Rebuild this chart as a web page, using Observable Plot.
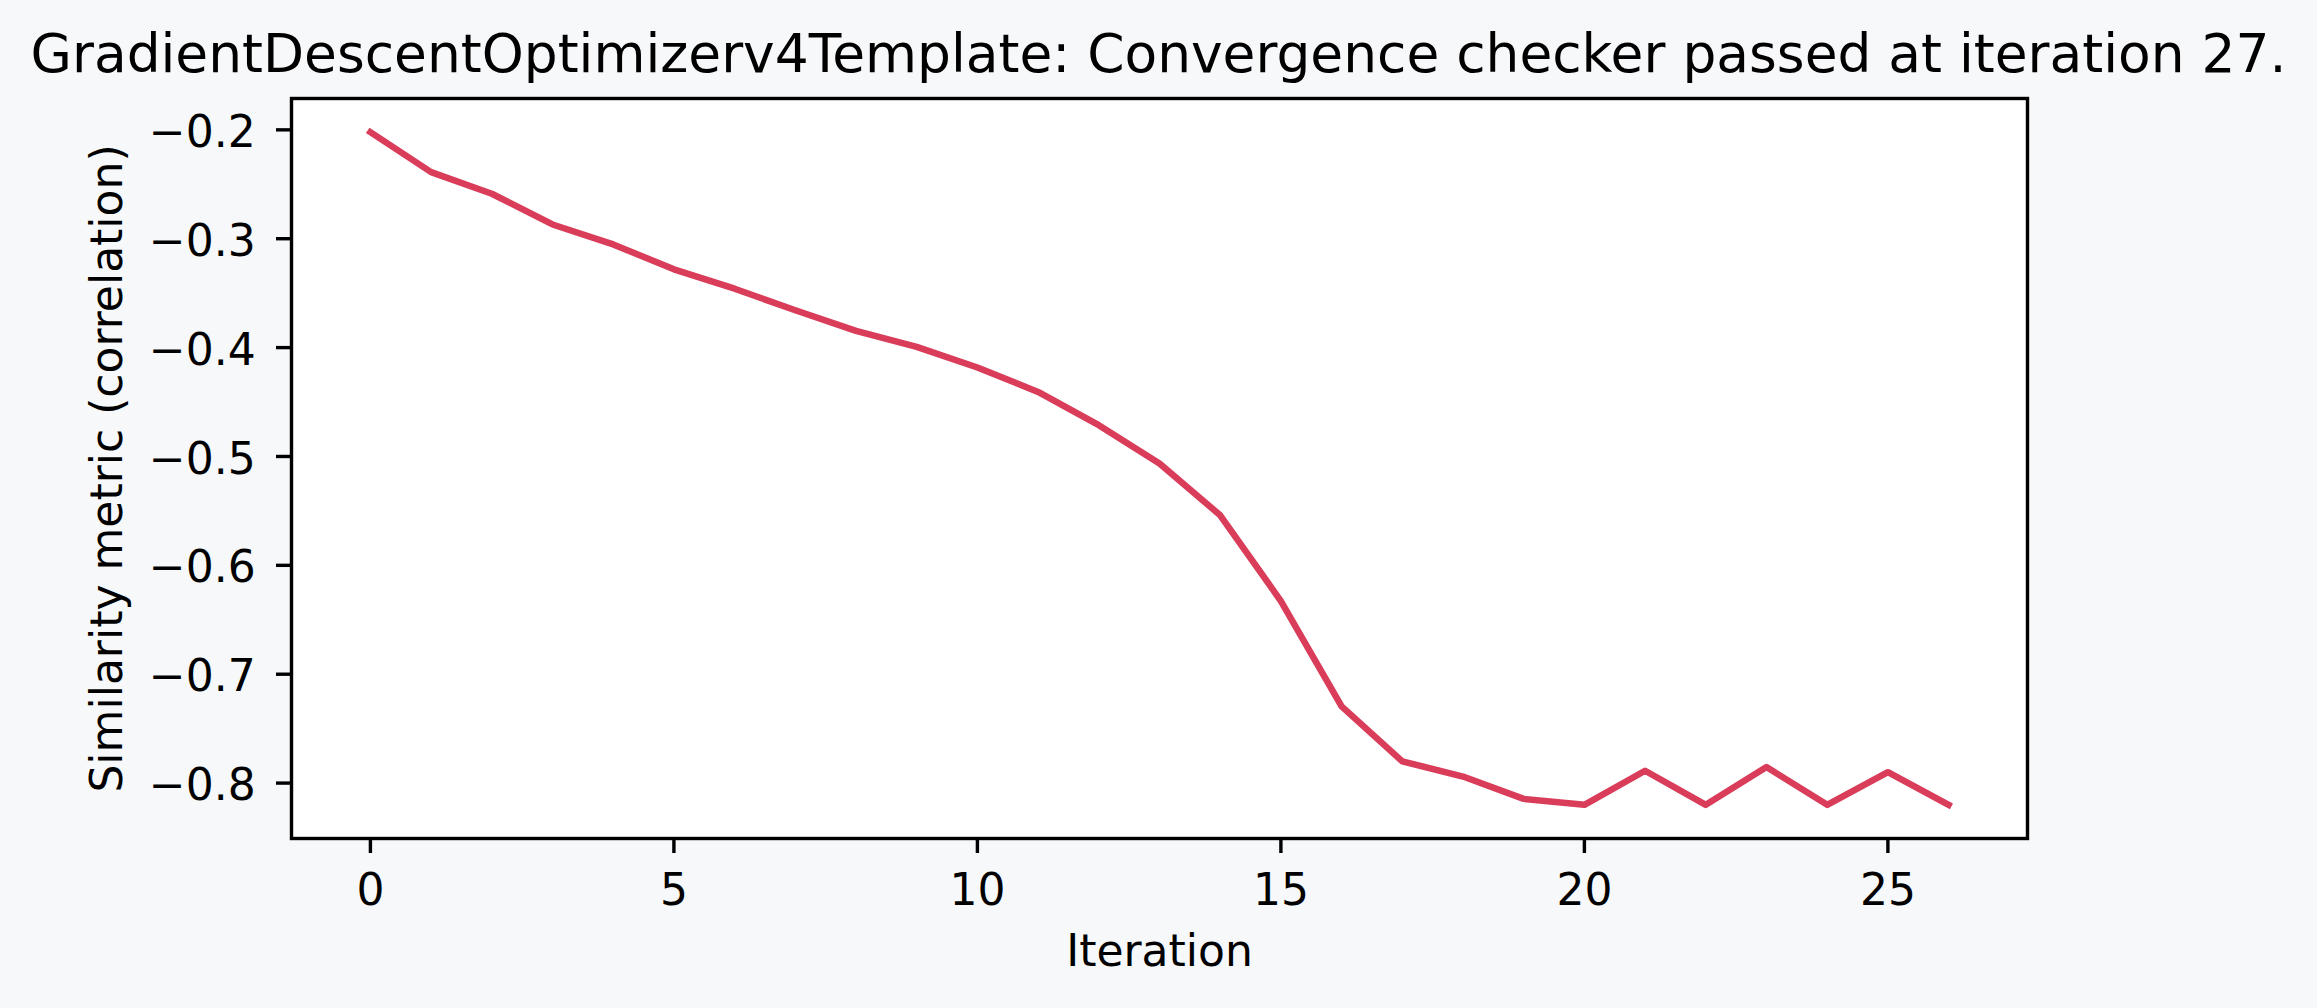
<!DOCTYPE html>
<html>
<head>
<meta charset="utf-8">
<script src="https://cdn.jsdelivr.net/npm/d3@7"></script>
<script src="https://cdn.jsdelivr.net/npm/@observablehq/plot@0.6"></script>
<style>
html, body { margin: 0; padding: 0; background: #f7f8fa; }
#title {
  font-family: "DejaVu Sans";
  font-size: 53.4px;
  line-height: 53.4px;
  height: 63px;
  padding-top: 27px;
  width: 2317px;
  text-align: center;
  white-space: nowrap;
  color: #000;
  overflow: visible;
}
#chart svg { display: block; }
</style>
</head>
<body>
<div id="title">GradientDescentOptimizerv4Template: Convergence checker passed at iteration 27.</div>
<div id="chart"></div>
<script>
const iterations = [0,1,2,3,4,5,6,7,8,9,10,11,12,13,14,15,16,17,18,19,20,21,22,23,24,25,26];
const metric = [-0.2021, -0.2388, -0.2587, -0.2869, -0.3052, -0.3281, -0.3459, -0.3657, -0.3847, -0.3994,
                -0.4183, -0.4407, -0.4713, -0.5064, -0.5540, -0.6328, -0.7295, -0.7800, -0.7940, -0.8145,
                -0.8200, -0.7887, -0.8200, -0.7853, -0.8200, -0.7900, -0.8200];
const xTicks = [0, 5, 10, 15, 20, 25];
const yTicks = [-0.2, -0.3, -0.4, -0.5, -0.6, -0.7, -0.8];
const yTickLabels = ["−0.2", "−0.3", "−0.4", "−0.5", "−0.6", "−0.7", "−0.8"];
const xLabel = "Iteration";
const yLabel = "Similarity metric (correlation)";
const lineColor = "#d93d5a";

const data = iterations.map((it, i) => ({it, v: metric[i]}));
const yLab = yTicks.map((t, i) => ({t, label: yTickLabels[i]}));

const fs = 44;
const chart = Plot.plot({
  width: 2317,
  height: 918,
  marginLeft: 291,
  marginRight: 290,
  marginTop: 8,
  marginBottom: 170,
  style: {background: "transparent", fontFamily: "DejaVu Sans", fontSize: fs + "px", color: "#000"},
  x: {domain: [-1.3, 27.3]},
  y: {domain: [-0.8509, -0.1712]},
  marks: [
    Plot.frame({fill: "white", stroke: null}),
    Plot.line(data, {x: "it", y: "v", stroke: lineColor, strokeWidth: 6.5, strokeLinejoin: "round", strokeLinecap: "square"}),
    Plot.axisX({ticks: xTicks, tickSize: 15, tickPadding: 19.8, strokeWidth: 3.4, fontSize: fs, label: null, tickFormat: d => String(d)}),
    Plot.axisY({ticks: yTicks, tickSize: 15, strokeWidth: 3.4, label: null, tickFormat: () => ""}),
    Plot.text(yLab, {y: "t", text: "label", frameAnchor: "left", textAnchor: "end", dx: -35.8, dy: 3, fontSize: fs, fill: "#000"}),
    Plot.frame({stroke: "#000", strokeWidth: 3.4}),
    Plot.text([xLabel], {frameAnchor: "bottom", lineAnchor: "top", dy: 96.4, fontSize: fs, fill: "#000"}),
    Plot.text([yLabel], {frameAnchor: "left", rotate: -90, lineAnchor: "middle", textAnchor: "middle", dx: -184, fontSize: fs, fill: "#000"})
  ]
});
document.getElementById("chart").appendChild(chart);
</script>
</body>
</html>
